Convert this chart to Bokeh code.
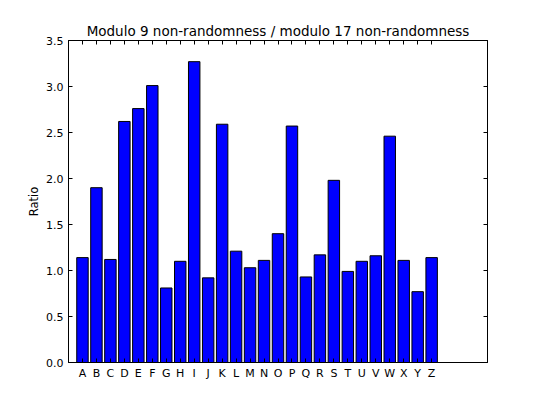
from bokeh.plotting import figure
from bokeh.models import FixedTicker, LinearAxis, PrintfTickFormatter, Range1d
from bokeh.embed import file_html
from bokeh.resources import INLINE

letters = list("ABCDEFGHIJKLMNOPQRSTUVWXYZ")
ratios = [1.14, 1.90, 1.12, 2.62, 2.76, 3.01, 0.81, 1.10, 3.27, 0.92, 2.59, 1.21, 1.03,
          1.11, 1.40, 2.57, 0.93, 1.17, 1.98, 0.99, 1.10, 1.16, 2.46, 1.11, 0.77, 1.14]
positions = list(range(1, len(letters) + 1))
y_ticks = [0.0, 0.5, 1.0, 1.5, 2.0, 2.5, 3.0, 3.5]

FONT = "DejaVu Sans"

p = figure(width=532, height=395, output_backend="svg", toolbar_location=None,
           x_range=Range1d(0, 30), y_range=Range1d(0, 3.5),
           frame_width=419, frame_height=322,
           min_border_left=68, min_border_top=40, min_border_right=45, min_border_bottom=33,
           title="Modulo 9 non-randomness / modulo 17 non-randomness",
           x_axis_type=None, y_axis_type=None)

p.title.align = "center"
p.title.text_font = FONT
p.title.text_font_size = "13.5px"
p.title.text_font_style = "normal"
p.title.text_color = "black"
p.title.standoff = 3

p.vbar(x=positions, top=ratios, width=0.82, bottom=0,
       fill_color="#0000ff", line_color="black", line_width=1)

p.xgrid.visible = False
p.ygrid.visible = False
p.outline_line_color = "black"
p.outline_line_width = 1
p.background_fill_color = "white"
p.border_fill_color = "white"

def style(ax, labels=True):
    ax.major_tick_in = 4
    ax.major_tick_out = 0
    ax.minor_tick_in = 0
    ax.minor_tick_out = 0
    ax.axis_line_color = "black"
    ax.major_tick_line_color = "black"
    ax.major_label_text_font = FONT
    ax.major_label_text_font_size = "11px" if labels else "0px"
    ax.major_label_text_color = "black"
    ax.major_label_standoff = 4 if labels else 0

xt = FixedTicker(ticks=positions)
yt = FixedTicker(ticks=y_ticks)
overrides = {p_: l for p_, l in zip(positions, letters)}

bottom = LinearAxis(ticker=xt, major_label_overrides=overrides)
style(bottom)
p.add_layout(bottom, "below")

top = LinearAxis(ticker=xt, major_label_overrides={p_: "" for p_ in positions})
style(top, labels=False)
p.add_layout(top, "above")

left = LinearAxis(ticker=yt, formatter=PrintfTickFormatter(format="%.1f"),
                  axis_label="Ratio")
style(left)
left.major_label_standoff = 5
left.axis_label_text_font = FONT
left.axis_label_text_font_size = "11.5px"
left.axis_label_text_font_style = "normal"
left.axis_label_text_color = "black"
left.axis_label_standoff = 2
p.add_layout(left, "left")

right = LinearAxis(ticker=yt, major_label_overrides={t: "" for t in y_ticks})
style(right, labels=False)
p.add_layout(right, "right")

open("out.html", "w").write(file_html(p, INLINE))
